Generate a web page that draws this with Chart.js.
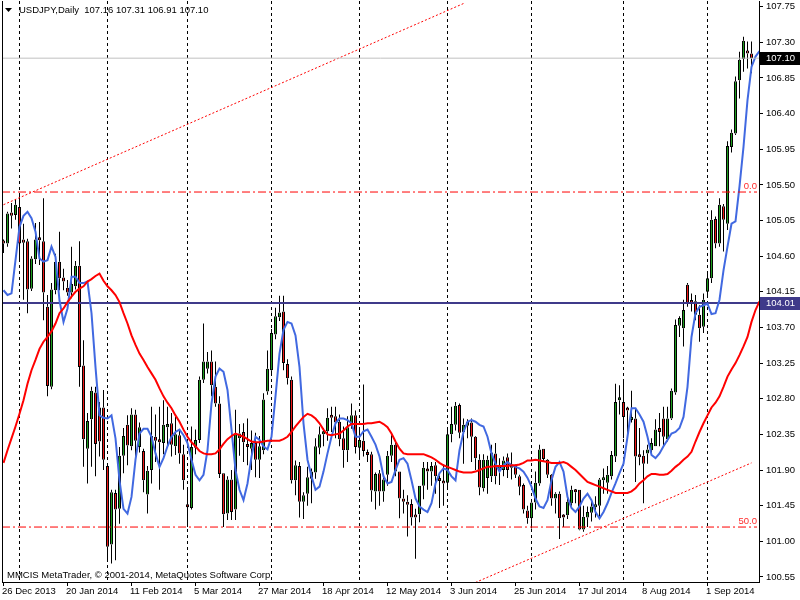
<!DOCTYPE html>
<html><head><meta charset="utf-8">
<script src="https://cdn.jsdelivr.net/npm/chart.js@4.4.1/dist/chart.umd.min.js"></script>
<style>html,body{margin:0;padding:0;background:#fff;overflow:hidden}#wrap{width:800px;height:600px;position:relative}</style>
</head><body><div id="wrap"><canvas id="c" width="800" height="600"></canvas></div>
<script>
// ---- data (USDJPY daily) ----
const openP = [104.79,104.76,105.15,105.12,105.22,104.81,104.79,104.19,104.56,104.82,104.79,103.96,102.95,104.17,104.53,104.33,104.20,104.14,104.22,104.48,
103.22,102.17,102.54,102.88,102.69,102.69,101.95,100.96,101.61,101.41,102.08,102.47,102.20,102.60,102.19,102.14,101.59,101.90,102.32,102.27,
102.24,102.44,102.49,102.20,102.34,102.10,101.46,101.42,102.18,102.28,103.04,103.18,103.27,102.95,102.74,101.86,101.35,101.78,101.40,102.30,
102.38,102.22,102.17,102.24,102.03,102.15,102.89,103.16,103.61,103.83,103.90,103.24,103.04,101.77,101.95,101.50,101.60,101.79,101.87,102.18,
102.35,102.39,102.58,102.58,102.51,102.30,102.15,102.47,102.59,102.18,102.27,102.10,102.10,101.63,101.86,101.63,101.84,102.08,102.22,101.88,
101.54,101.50,101.47,101.33,101.34,101.70,101.89,101.88,101.96,101.80,101.75,101.74,102.35,102.47,102.72,102.38,102.46,102.50,102.32,102.03,
101.67,101.80,101.82,102.11,101.92,101.90,102.06,101.93,101.95,101.82,101.71,101.39,101.29,101.49,101.73,102.17,102.03,101.84,101.54,101.60,
101.31,101.33,101.48,101.63,101.65,101.15,101.30,101.36,101.43,101.45,101.77,101.74,101.82,102.07,102.78,102.76,102.67,102.53,102.55,102.08,
102.08,102.11,102.15,102.20,102.43,102.55,102.29,102.55,102.88,103.72,103.69,104.24,104.03,104.03,103.86,103.71,104.15,104.32,105.07,104.76,
105.23,105.01,105.98,106.15,106.82,107.09,107.19,107.16];
const highP = [104.81,105.16,105.27,105.32,105.38,105.01,104.82,104.60,105.02,105.03,105.33,104.11,104.26,104.63,104.91,104.44,104.30,104.72,104.54,104.79,
103.54,102.62,102.95,102.95,102.76,102.91,101.97,101.65,101.65,102.19,102.43,102.59,102.68,102.66,102.50,102.17,101.95,102.70,102.60,102.70,
102.78,102.70,102.62,102.57,102.41,102.22,101.65,102.45,102.41,103.08,103.75,103.39,103.41,103.27,102.83,101.86,101.82,101.90,102.66,102.48,
102.49,102.55,102.40,102.37,102.33,102.87,103.41,103.68,103.95,104.10,104.10,103.30,103.08,102.02,102.00,101.62,101.94,101.92,102.30,102.45,
102.43,102.68,102.70,102.70,102.60,102.45,102.58,102.74,102.65,102.43,102.98,102.16,102.13,101.87,101.90,101.83,102.14,102.34,102.28,101.88,
101.65,101.58,101.53,101.41,101.70,102.00,102.00,102.00,102.00,101.83,101.97,102.42,102.70,102.76,102.74,102.55,102.54,102.55,102.33,102.10,
102.10,102.08,102.22,102.24,102.05,102.07,102.11,102.12,101.97,101.84,101.73,101.45,101.51,101.88,102.22,102.17,102.04,101.85,101.62,101.63,
101.34,101.55,101.70,101.66,101.65,101.45,101.44,101.53,101.57,101.80,101.92,101.95,102.14,102.99,102.97,103.03,102.70,102.90,102.68,102.43,
102.15,102.22,102.30,102.54,102.62,102.70,102.70,102.93,103.80,103.84,104.05,104.26,104.13,104.11,103.98,104.13,104.40,105.18,105.10,105.33,
105.26,106.05,106.20,106.87,107.18,107.37,107.31,107.31];
const lowP = [104.64,104.72,104.95,105.06,104.53,104.05,103.88,104.16,104.50,104.49,103.79,102.83,102.92,104.12,104.17,104.17,104.10,104.07,104.18,102.95,
101.94,101.73,101.94,101.82,102.07,101.90,100.74,100.72,100.76,101.22,101.86,101.96,102.15,102.07,102.12,101.62,101.35,101.73,102.00,101.65,
102.10,102.20,102.07,102.09,101.98,101.65,101.18,101.40,102.10,102.24,103.00,103.12,102.83,102.70,101.80,101.18,101.27,101.27,101.27,102.08,
102.00,101.96,101.90,101.81,101.80,102.10,102.85,103.10,103.55,103.78,103.16,102.98,101.73,101.58,101.30,101.28,101.45,101.48,101.79,102.10,
102.20,102.27,102.38,102.30,102.20,101.93,102.00,102.42,102.11,102.03,102.07,102.00,101.50,101.40,101.45,101.50,101.70,102.00,101.82,101.29,
101.35,101.06,101.20,100.78,101.24,101.53,101.65,101.70,101.60,101.42,101.45,101.65,102.25,102.40,102.30,101.98,102.30,102.00,101.90,101.58,
101.63,101.60,101.75,101.72,101.71,101.82,101.80,101.78,101.80,101.58,101.35,101.22,101.16,101.40,101.70,102.00,101.80,101.45,101.35,101.03,
101.18,101.28,101.45,101.48,101.14,101.12,101.18,101.25,101.30,101.30,101.60,101.60,101.78,102.00,102.60,102.30,102.32,102.50,101.75,101.96,
101.48,101.98,102.11,102.20,102.20,102.20,102.26,102.53,102.85,103.58,103.46,103.96,103.90,103.79,103.52,103.63,104.09,104.26,104.70,104.72,
104.66,104.93,105.91,106.13,106.59,106.93,106.97,106.91];
const closeP = [104.76,105.14,105.11,105.25,104.76,104.77,104.18,104.57,104.81,104.80,104.14,102.96,104.18,104.53,104.32,104.28,104.14,104.25,104.48,103.20,
102.29,102.52,102.90,102.23,102.26,102.03,100.93,101.62,101.40,102.08,102.33,102.21,102.60,102.27,102.44,101.77,101.89,102.33,102.27,102.25,
102.47,102.48,102.22,102.35,102.11,101.77,101.43,102.19,102.28,103.04,103.27,103.27,102.97,102.74,101.85,101.34,101.78,101.37,102.36,102.36,
102.25,102.19,102.24,102.03,102.20,102.79,103.18,103.63,103.84,103.89,103.25,103.06,101.77,101.96,101.50,101.58,101.81,101.88,102.20,102.35,
102.37,102.56,102.56,102.50,102.29,102.15,102.44,102.59,102.19,102.28,102.14,102.09,101.64,101.85,101.63,101.78,102.08,102.22,101.88,101.54,
101.50,101.46,101.30,101.30,101.70,101.93,101.88,101.95,101.82,101.76,101.73,102.35,102.48,102.71,102.37,102.47,102.51,102.32,102.05,101.68,
102.03,102.03,102.12,101.82,101.96,102.02,101.90,101.94,101.84,101.69,101.40,101.29,101.49,101.74,102.16,102.04,101.84,101.54,101.60,101.29,
101.30,101.50,101.65,101.62,101.15,101.31,101.37,101.44,101.46,101.78,101.80,101.84,102.09,102.76,102.79,102.57,102.65,102.57,102.07,102.06,
101.98,102.16,102.24,102.41,102.38,102.32,102.55,102.90,103.73,103.82,103.92,104.01,104.01,103.86,103.69,104.05,104.32,105.06,104.76,105.25,
105.06,105.99,106.16,106.81,107.08,107.32,107.16,107.10];
// fast moving average (blue) and slow moving average (red), one value per bar
const fastMA = [104.17,104.11,104.13,104.55,104.97,105.11,105.16,105.08,104.91,104.57,104.53,104.55,104.72,104.59,104.04,103.77,103.94,104.34,104.34,104.26,
104.26,104.28,103.88,103.20,102.59,102.56,102.55,102.59,102.30,101.77,101.41,101.35,101.56,102.03,102.36,102.42,102.42,102.32,102.11,101.94,
102.05,102.20,102.32,102.38,102.41,102.34,102.24,102.03,101.84,101.77,101.84,102.15,102.74,103.08,103.18,103.14,102.91,102.41,101.90,101.65,
101.52,101.73,102.07,102.32,102.28,102.20,102.16,102.32,102.83,103.37,103.67,103.77,103.75,103.60,103.20,102.49,102.03,101.82,101.65,101.69,
101.88,102.11,102.32,102.49,102.55,102.55,102.53,102.49,102.32,102.32,102.39,102.41,102.32,102.22,102.07,101.82,101.73,101.75,101.90,102.03,
102.05,101.98,101.77,101.54,101.44,101.40,101.37,101.48,101.73,101.86,101.92,101.90,101.82,101.77,102.15,102.38,102.51,102.53,102.51,102.47,
102.45,102.32,102.11,101.98,101.88,101.96,102.00,101.96,101.94,101.92,101.88,101.80,101.69,101.54,101.44,101.42,101.52,101.77,101.94,102.00,
101.88,101.56,101.42,101.37,101.44,101.54,101.60,101.52,101.37,101.29,101.37,101.48,101.61,101.73,101.86,101.98,102.32,102.68,102.68,102.60,
102.51,102.32,102.09,102.05,102.11,102.20,102.28,102.36,102.38,102.43,102.57,102.95,103.58,103.88,103.96,103.98,104.00,103.87,103.88,104.05,
104.42,104.72,105.01,105.04,105.48,105.98,106.57,106.99,107.12,107.19];
const slowMA = [101.99,102.15,102.30,102.45,102.61,102.78,102.99,103.16,103.29,103.43,103.52,103.58,103.65,103.75,103.88,103.94,104.02,104.09,104.15,104.19,
104.22,104.28,104.31,104.35,104.38,104.29,104.22,104.17,104.11,104.02,103.88,103.75,103.60,103.48,103.37,103.29,103.20,103.12,103.04,102.93,
102.83,102.75,102.68,102.59,102.51,102.41,102.32,102.25,102.20,102.14,102.11,102.10,102.10,102.11,102.16,102.23,102.29,102.33,102.36,102.34,
102.32,102.29,102.26,102.25,102.25,102.26,102.27,102.27,102.27,102.27,102.29,102.32,102.38,102.45,102.51,102.57,102.61,102.59,102.55,102.49,
102.41,102.35,102.34,102.35,102.36,102.40,102.45,102.48,102.48,102.48,102.48,102.49,102.49,102.50,102.51,102.48,102.44,102.36,102.26,102.17,
102.11,102.10,102.10,102.10,102.10,102.10,102.08,102.06,102.03,101.99,101.96,101.94,101.92,101.90,101.88,101.87,101.87,101.87,101.88,101.90,
101.92,101.94,101.94,101.95,101.95,101.95,101.95,101.96,101.96,101.97,101.99,102.02,102.02,102.03,102.02,102.01,102.00,101.99,101.99,101.99,
102.00,101.98,101.94,101.90,101.85,101.80,101.75,101.73,101.71,101.69,101.67,101.65,101.63,101.61,101.61,101.61,101.61,101.63,101.67,101.73,
101.77,101.82,101.85,101.85,101.84,101.84,101.85,101.89,101.94,101.98,102.03,102.07,102.13,102.26,102.38,102.49,102.59,102.69,102.75,102.83,
102.95,103.08,103.17,103.25,103.35,103.46,103.58,103.77,103.92,104.03];
const tickLabels = ['26 Dec 2013','20 Jan 2014','11 Feb 2014','5 Mar 2014','27 Mar 2014','18 Apr 2014','12 May 2014','3 Jun 2014','25 Jun 2014','17 Jul 2014','8 Aug 2014','1 Sep 2014'];
const tickIndex = [0,16,32,48,64,80,96,112,128,144,160,176];
const monthStartIndex = [4,26,46,67,89,111,132,155,176];
const priceTicks = [100.55,101.00,101.45,101.90,102.35,102.80,103.25,103.70,104.15,104.60,105.05,105.50,105.95,106.40,106.85,107.30,107.75];
const hLineLevel = 104.01;
const lastClose = 107.10;
const fibLevels = [105.41, 101.18];
const fibNames = ['0.0', '50.0'];
const upperTrend = [[0,105.25],[115,107.79]];
const lowerTrend = [[118,100.48],[187,101.99]];
const header = {symbol:'USDJPY,Daily', o:'107.16', h:'107.31', l:'106.91', c:'107.10'};
const copyright = 'MMCIS MetaTrader, \u00A9 2001-2014, MetaQuotes Software Corp.';

// ---- build ----
const X_MIN = -0.375, X_MAX = 188.875, Y_MIN = 100.486, Y_MAX = 107.822;
const FONT = "'Liberation Sans', Arial, sans-serif";
const FS = 9.5;
Chart.defaults.font.family = FONT;
Chart.defaults.font.size = FS;
Chart.defaults.color = '#000';

// wicks split into the parts above and below the body so they never cover the body fill
const upWick = openP.map((o,i)=>({x:i, y:[Math.max(o, closeP[i]), highP[i]]}));
const dnWick = openP.map((o,i)=>({x:i, y:[lowP[i], Math.min(o, closeP[i])]}));
const bodyData = openP.map((o,i)=>({x:i, y:[o, closeP[i]]}));
const bodyColors = openP.map((o,i)=> closeP[i] > o ? '#1e9e1e' : (closeP[i] < o ? '#f01818' : '#000000'));
const lineDs = (data, color, width, dash) => ({type:'line', data, borderColor:color, borderWidth:width, borderDash:dash||[],
  pointRadius:0, tension:0, fill:false, clip:0, order:0, xAxisID:'x', yAxisID:'y'});
const flat = (v, x0, x1) => [{x:x0,y:v},{x:x1,y:v}];
const wickDs = (data) => ({type:'bar', data, backgroundColor:'#000', borderWidth:0, barThickness:1, grouped:false, inflateAmount:0, order:5, xAxisID:'x', yAxisID:'y'});

const datasets = [
  lineDs(flat(lastClose, X_MIN, X_MAX), '#c0c0c0', 1),
  lineDs(flat(fibLevels[0], X_MIN, 188.375), '#ff0000', 1, [8,3,2,3]),
  lineDs(flat(fibLevels[1], X_MIN, 188.375), '#ff0000', 1, [8,3,2,3]),
  lineDs(upperTrend.map(p=>({x:p[0],y:p[1]})), '#ff0000', 1, [2,2]),
  lineDs(lowerTrend.map(p=>({x:p[0],y:p[1]})), '#ff0000', 1, [2,2]),
  wickDs(upWick), wickDs(dnWick),
  {type:'bar', data:bodyData, backgroundColor:bodyColors, borderColor:'#000', borderWidth:1, borderSkipped:false, barThickness:3, minBarLength:3, grouped:false, inflateAmount:0, order:4, xAxisID:'x', yAxisID:'y'},
  lineDs(slowMA.map((v,i)=>({x:i,y:v})), '#ff0000', 2),
  lineDs(fastMA.map((v,i)=>({x:i,y:v})), '#4169e1', 2),
  lineDs(flat(hLineLevel, X_MIN, X_MAX), '#3f3a8a', 2),
];

const zeroPad = s => { s.paddingTop = 0; s.paddingBottom = 0; s.paddingLeft = 0; s.paddingRight = 0; };

const deco = {
  id:'deco',
  afterDraw(chart){
    const ctx = chart.ctx, ca = chart.chartArea, ys = chart.scales.y;
    ctx.save();
    ctx.fillStyle = '#000';
    ctx.fillRect(ca.left, ca.top, 1, ca.bottom - ca.top);
    ctx.font = FS + 'px ' + FONT;
    ctx.textBaseline = 'middle';
    ctx.beginPath(); ctx.moveTo(5,8); ctx.lineTo(12,8); ctx.lineTo(8.5,12); ctx.closePath(); ctx.fill();
    ctx.textAlign = 'left';
    ctx.fillText(header.symbol + '  ' + [header.o, header.h, header.l, header.c].join(' '), 19, 10.5);
    ctx.fillText(copyright, 7, 575);
    ctx.fillStyle = '#ff2a2a'; ctx.textAlign = 'right'; ctx.textBaseline = 'alphabetic';
    fibLevels.forEach((v,k)=>{ ctx.fillText(fibNames[k], 757, ys.getPixelForValue(v) - 3); });
    ctx.textAlign = 'left'; ctx.textBaseline = 'middle';
    const box = (v, bg) => { const py = ys.getPixelForValue(v); ctx.fillStyle = bg; ctx.fillRect(760, Math.round(py) - 6, 40, 13);
      ctx.fillStyle = '#fff'; ctx.fillText(v.toFixed(2), 766, Math.round(py) + 0.5); };
    box(lastClose, '#000');
    box(hLineLevel, '#3f3a8a');
    ctx.restore();
  }
};

new Chart(document.getElementById('c'), {
  type:'bar',
  data:{ datasets },
  options:{
    responsive:false, animation:false, devicePixelRatio:1,
    layout:{ padding:{left:2, top:1, right:0, bottom:0} },
    plugins:{ legend:{display:false}, tooltip:{enabled:false}, title:{display:false} },
    scales:{
      x:{ type:'linear', position:'bottom', min:X_MIN, max:X_MAX, offset:false,
        grid:{ display:true, drawOnChartArea:false, drawTicks:true, tickLength:4, color:'#000', offset:false },
        border:{ display:true, color:'#000', width:1 },
        ticks:{ autoSkip:false, maxRotation:0, minRotation:0, align:'start', padding:0, labelOffset:-1.5, color:'#000',
          callback:(v)=>{ const k = tickIndex.indexOf(v); return k >= 0 ? tickLabels[k] : ''; } },
        afterBuildTicks:(s)=>{ s.ticks = tickIndex.map(v=>({value:v})); },
        afterFit:(s)=>{ s.height = 18; zeroPad(s); } },
      xg:{ type:'linear', position:'bottom', min:X_MIN, max:X_MAX, offset:false,
        grid:{ display:true, drawOnChartArea:true, drawTicks:false, color:'#000', lineWidth:1, offset:false },
        border:{ display:false, dash:[3,3] },
        ticks:{ display:false },
        afterBuildTicks:(s)=>{ s.ticks = monthStartIndex.map(v=>({value:v})); },
        afterFit:(s)=>{ s.height = 0; zeroPad(s); } },
      y:{ type:'linear', position:'right', min:Y_MIN, max:Y_MAX, beginAtZero:false,
        grid:{ display:true, drawOnChartArea:false, drawTicks:true, tickLength:4, color:'#000' },
        border:{ display:true, color:'#000', width:1 },
        ticks:{ padding:3, color:'#000', autoSkip:false, callback:(v)=>Number(v).toFixed(2) },
        afterBuildTicks:(s)=>{ s.ticks = priceTicks.map(v=>({value:v})); },
        afterFit:(s)=>{ s.width = 41; zeroPad(s); } }
    }
  },
  plugins:[deco]
});
</script></body></html>
